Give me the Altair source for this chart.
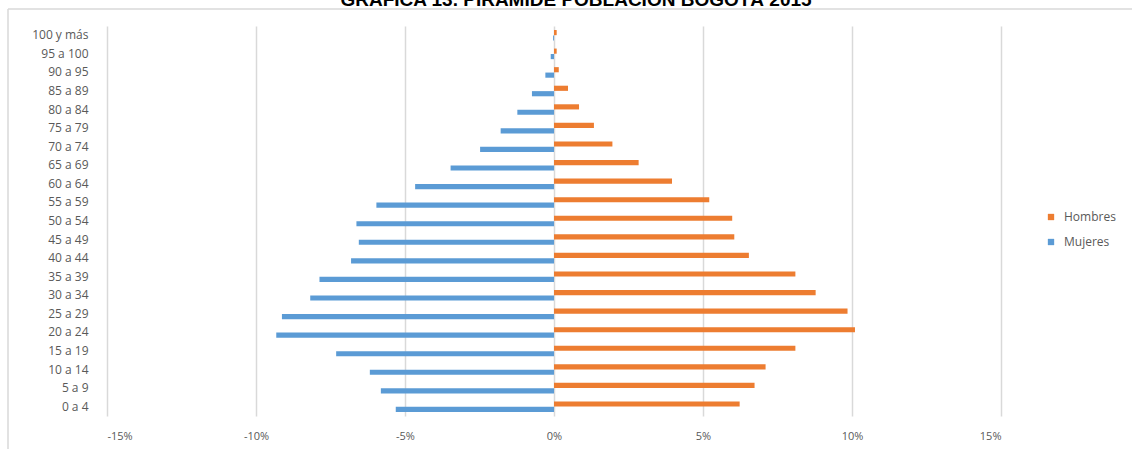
import altair as alt
import pandas as pd

grupos = ["100 y más", "95 a 100", "90 a 95", "85 a 89", "80 a 84", "75 a 79",
          "70 a 74", "65 a 69", "60 a 64", "55 a 59", "50 a 54", "45 a 49",
          "40 a 44", "35 a 39", "30 a 34", "25 a 29", "20 a 24", "15 a 19",
          "10 a 14", "5 a 9", "0 a 4"]
hombres = [0.09, 0.09, 0.16, 0.47, 0.84, 1.34, 1.96, 2.84, 3.96, 5.21, 5.98,
           6.05, 6.54, 8.10, 8.78, 9.85, 10.10, 8.10, 7.10, 6.73, 6.23]
mujeres = [0.03, 0.11, 0.29, 0.74, 1.23, 1.79, 2.48, 3.47, 4.66, 5.96, 6.63,
           6.55, 6.81, 7.87, 8.18, 9.13, 9.32, 7.31, 6.18, 5.81, 5.31]
series = ["Hombres", "Mujeres"]
colores = ["#ED7D31", "#5B9BD5"]
ticks = [-15, -10, -5, 0, 5, 10, 15]
titulo = "GRÁFICA 13. PIRÁMIDE POBLACIÓN BOGOTÁ 2015"

rows = []
for g, h, m in zip(grupos, hombres, mujeres):
    rows.append({"grupo": g, "sexo": "Hombres", "valor": h})
    rows.append({"grupo": g, "sexo": "Mujeres", "valor": -m})
df = pd.DataFrame(rows)

FONT = "Open Sans"
GRAY = "#595959"

bars = alt.Chart(df).mark_bar().encode(
    x=alt.X("valor:Q",
            scale=alt.Scale(domain=[-15, 15], nice=False, zero=False),
            axis=alt.Axis(values=ticks, labelExpr="datum.value + '%'", title=None,
                          domain=False, ticks=False, grid=True, gridColor="#d9d9d9",
                          gridWidth=1.5, labelPadding=14, labelFont=FONT,
                          labelFontSize=11, labelColor=GRAY)),
    y=alt.Y("grupo:N", sort=grupos,
            scale=alt.Scale(paddingInner=0.43, paddingOuter=0.215),
            axis=alt.Axis(title=None, domain=False, ticks=False, grid=False,
                          labelPadding=19, labelFont=FONT, labelFontSize=12,
                          labelColor=GRAY)),
    yOffset=alt.YOffset("sexo:N", sort=series, scale=alt.Scale(paddingInner=0.05)),
    color=alt.Color("sexo:N", scale=alt.Scale(domain=series, range=colores),
                    legend=alt.Legend(title=None, orient="none", legendX=938, legendY=185,
                                      symbolType="square", symbolSize=40,
                                      symbolStrokeWidth=0, labelFont=FONT,
                                      labelFontSize=12, labelColor=GRAY,
                                      labelOffset=7, rowPadding=13)),
)

one = pd.DataFrame({"a": [0]})
frame_top = alt.Chart(one).mark_rule(color="#d9d9d9", strokeWidth=1.5).encode(
    x=alt.value(-99), x2=alt.value(1040), y=alt.value(-17))
frame_left = alt.Chart(one).mark_rule(color="#d9d9d9", strokeWidth=1.5).encode(
    x=alt.value(-99), y=alt.value(-17), y2=alt.value(440))
title = alt.Chart(one).mark_text(font="Liberation Sans", fontWeight="bold", fontSize=19,
                                 align="center", baseline="alphabetic",
                                 color="#000000").encode(
    x=alt.value(469), y=alt.value(-20.5), text=alt.value(titulo))

chart = alt.layer(frame_top, frame_left, bars, title).properties(
    width=894, height=390,
    autosize=alt.AutoSizeParams(type="none"),
    padding={"left": 107, "top": 26, "right": 131, "bottom": 33},
).configure_view(stroke=None)

chart.save("out.html", embed_options={"renderer": "svg", "actions": False})
